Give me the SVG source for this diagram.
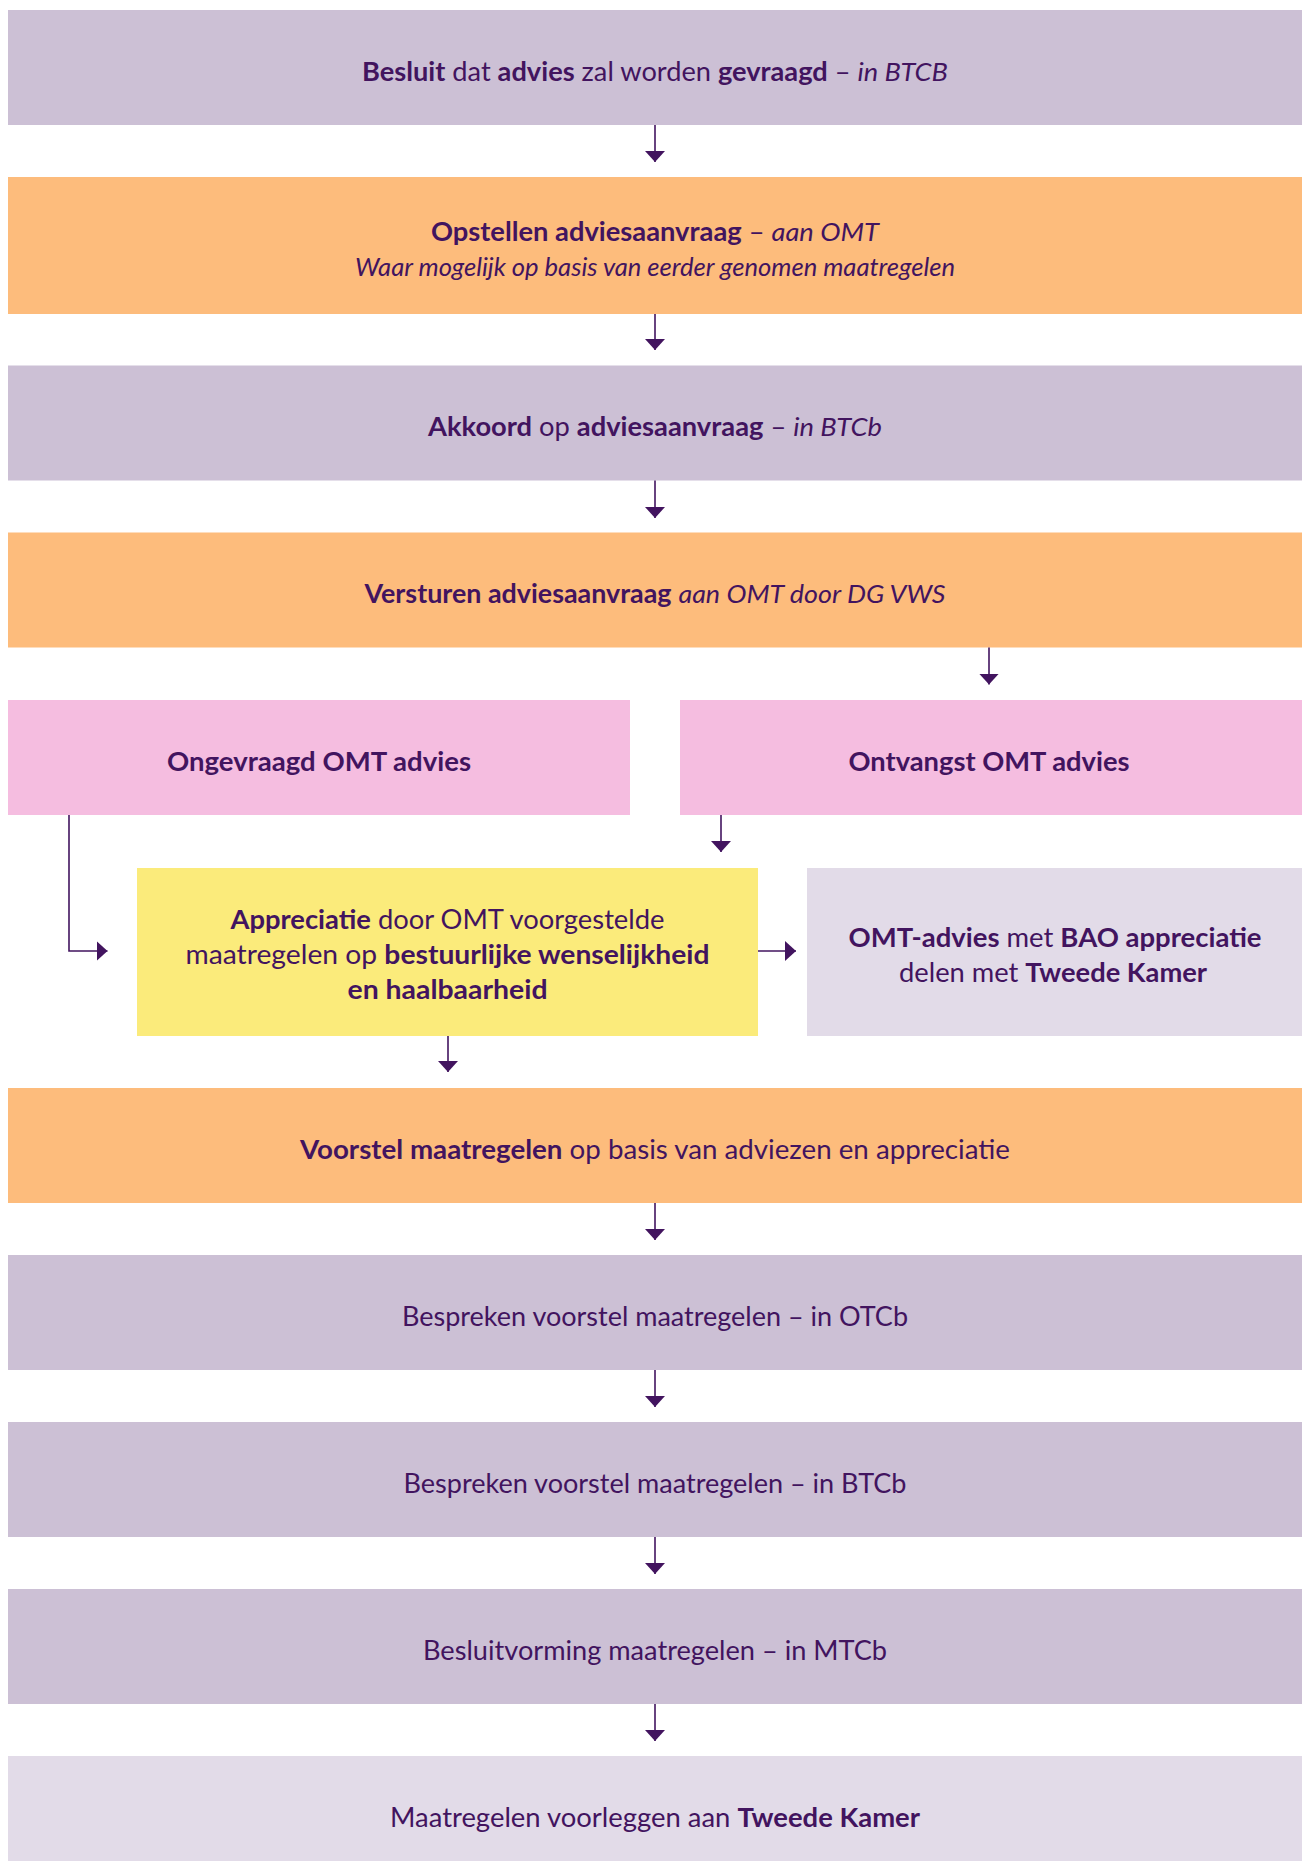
<svg xmlns="http://www.w3.org/2000/svg" width="1303" height="1861" viewBox="0 0 1303 1861">
<defs>
<style>
.lav{fill:#CCC0D5}.ora{fill:#FDBC7C}.pink{fill:#F5BDE0}.yel{fill:#FBEB7B}.lt{fill:#E2DBE8}
text{font-family:Lato,"Open Sans","Liberation Sans",sans-serif;font-size:26px;fill:#42145F;text-anchor:middle}
.b{font-weight:700}.i{font-style:italic}
.c{fill:none;stroke:#42145F;stroke-width:1.6}
</style>
<marker id="ah" markerUnits="userSpaceOnUse" markerWidth="11" markerHeight="20" viewBox="0 0 11 20" refX="11" refY="10" orient="auto">
<path d="M0,0 L11,10 L0,20 Z" fill="#42145F"/>
</marker>
</defs>
<g id="n1"><rect class="lav" x="8" y="10" width="1294" height="115"/>
<text x="655" y="81" textLength="586" lengthAdjust="spacingAndGlyphs"><tspan class="b">Besluit</tspan> dat <tspan class="b">advies</tspan> zal worden <tspan class="b">gevraagd</tspan> – <tspan class="i">in BTCB</tspan></text></g>
<g id="n2"><rect class="ora" x="8" y="177" width="1294" height="137"/>
<text x="655" y="241" textLength="448" lengthAdjust="spacingAndGlyphs"><tspan class="b">Opstellen adviesaanvraag</tspan> – <tspan class="i">aan OMT</tspan></text>
<text class="i" x="655" y="276" textLength="600" lengthAdjust="spacingAndGlyphs">Waar mogelijk op basis van eerder genomen maatregelen</text></g>
<g id="n3"><rect class="lav" x="8" y="365.5" width="1294" height="115"/>
<text x="655" y="436" textLength="454" lengthAdjust="spacingAndGlyphs"><tspan class="b">Akkoord</tspan> op <tspan class="b">adviesaanvraag</tspan> – <tspan class="i">in BTCb</tspan></text></g>
<g id="n4"><rect class="ora" x="8" y="532.5" width="1294" height="115"/>
<text x="655" y="603" textLength="581" lengthAdjust="spacingAndGlyphs"><tspan class="b">Versturen adviesaanvraag</tspan> <tspan class="i">aan OMT door DG VWS</tspan></text></g>
<g id="n5"><rect class="pink" x="8" y="700" width="622" height="115"/>
<text class="b" x="319" y="771" textLength="304" lengthAdjust="spacingAndGlyphs">Ongevraagd OMT advies</text></g>
<g id="n6"><rect class="pink" x="680" y="700" width="622" height="115"/>
<text class="b" x="989" y="771" textLength="281" lengthAdjust="spacingAndGlyphs">Ontvangst OMT advies</text></g>
<g id="n7"><rect class="yel" x="137" y="868" width="621" height="168"/>
<text x="447.5" y="929" textLength="434" lengthAdjust="spacingAndGlyphs"><tspan class="b">Appreciatie</tspan> door OMT voorgestelde</text>
<text x="447.5" y="964" textLength="524" lengthAdjust="spacingAndGlyphs">maatregelen op <tspan class="b">bestuurlijke wenselijkheid</tspan></text>
<text class="b" x="447.5" y="999" textLength="200" lengthAdjust="spacingAndGlyphs">en haalbaarheid</text></g>
<g id="n8"><rect class="lt" x="807" y="868" width="495" height="168"/>
<text x="1055" y="947" textLength="413" lengthAdjust="spacingAndGlyphs"><tspan class="b">OMT-advies</tspan> met <tspan class="b">BAO appreciatie</tspan></text>
<text x="1053" y="982" textLength="308" lengthAdjust="spacingAndGlyphs">delen met <tspan class="b">Tweede Kamer</tspan></text></g>
<g id="n9"><rect class="ora" x="8" y="1088" width="1294" height="115"/>
<text x="655" y="1159" textLength="710" lengthAdjust="spacingAndGlyphs"><tspan class="b">Voorstel maatregelen</tspan> op basis van adviezen en appreciatie</text></g>
<g id="n10"><rect class="lav" x="8" y="1255" width="1294" height="115"/>
<text x="655" y="1326" textLength="506" lengthAdjust="spacingAndGlyphs">Bespreken voorstel maatregelen – in OTCb</text></g>
<g id="n11"><rect class="lav" x="8" y="1422" width="1294" height="115"/>
<text x="655" y="1493" textLength="503" lengthAdjust="spacingAndGlyphs">Bespreken voorstel maatregelen – in BTCb</text></g>
<g id="n12"><rect class="lav" x="8" y="1589" width="1294" height="115"/>
<text x="655" y="1660" textLength="464" lengthAdjust="spacingAndGlyphs">Besluitvorming maatregelen – in MTCb</text></g>
<g id="n13"><rect class="lt" x="8" y="1756" width="1294" height="110"/>
<text x="655" y="1827" textLength="530" lengthAdjust="spacingAndGlyphs">Maatregelen voorleggen aan <tspan class="b">Tweede Kamer</tspan></text></g>
<g id="connectors">
<path class="c" marker-end="url(#ah)" d="M655,125 V162"/>
<path class="c" marker-end="url(#ah)" d="M655,314 V350"/>
<path class="c" marker-end="url(#ah)" d="M655,480.5 V518"/>
<path class="c" marker-end="url(#ah)" d="M989,647.5 V684.5"/>
<path class="c" marker-end="url(#ah)" d="M69,815 V951 H107.5"/>
<path class="c" marker-end="url(#ah)" d="M721,815 V852"/>
<path class="c" marker-end="url(#ah)" d="M758,951 H796"/>
<path class="c" marker-end="url(#ah)" d="M448,1036 V1072"/>
<path class="c" marker-end="url(#ah)" d="M655,1203 V1240"/>
<path class="c" marker-end="url(#ah)" d="M655,1370 V1407"/>
<path class="c" marker-end="url(#ah)" d="M655,1537 V1574"/>
<path class="c" marker-end="url(#ah)" d="M655,1704 V1741"/>
</g>
</svg>
